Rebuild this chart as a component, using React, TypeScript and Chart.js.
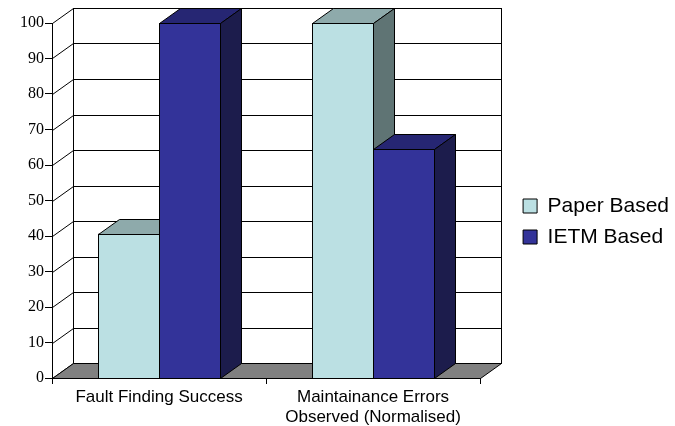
import React, { useEffect, useRef } from 'react';
import { Chart, registerables } from 'chart.js';

Chart.register(...registerables);

// ---- data ----
const categories: (string | string[])[] = [
  'Fault Finding Success',
  ['Maintainance Errors', 'Observed (Normalised)'],
];
const seriesNames = ['Paper Based', 'IETM Based'];
const paperBased = [40.7, 100];
const ietmBased = [100, 64.6];
const yMin = 0;
const yMax = 100;
const yStep = 10;

// ---- styles ----
const faces = [
  { front: '#BBE0E3', top: '#8EAAAB', side: '#5F7474' },
  { front: '#333399', top: '#262673', side: '#1C1C4C' },
];
const DX = 21;
const DY = -15.4;
const SANS = '"Liberation Sans", Arial, sans-serif';
const SERIF = '"Liberation Serif", "Times New Roman", serif';

const crisp = (v: number) => Math.round(v) + 0.5;

const box3d = {
  id: 'box3d',
  beforeDraw(chart: any) {
    const { ctx, chartArea } = chart;
    const L = crisp(chartArea.left);
    const R = crisp(chartArea.right);
    const T = crisp(chartArea.top);
    const B = crisp(chartArea.bottom);
    const ys = chart.scales.y;
    ctx.save();
    ctx.lineWidth = 1;
    ctx.strokeStyle = '#000';
    // back wall
    ctx.fillStyle = '#fff';
    ctx.fillRect(L + DX, T + DY, R - L, B - T);
    // grid lines on back wall and left wall
    ys.ticks.forEach((t: any) => {
      const py = crisp(ys.getPixelForValue(t.value));
      ctx.beginPath();
      ctx.moveTo(L + DX, crisp(py + DY));
      ctx.lineTo(R + DX, crisp(py + DY));
      ctx.stroke();
      ctx.beginPath();
      ctx.moveTo(L, py);
      ctx.lineTo(L + DX, crisp(py + DY));
      ctx.stroke();
    });
    ctx.strokeRect(L + DX, crisp(T + DY), R - L, B - T);
    // floor
    ctx.fillStyle = '#808080';
    ctx.beginPath();
    ctx.moveTo(L, B);
    ctx.lineTo(L + DX, crisp(B + DY));
    ctx.lineTo(R + DX, crisp(B + DY));
    ctx.lineTo(R, B);
    ctx.closePath();
    ctx.fill();
    ctx.stroke();
    ctx.restore();
  },
  afterDatasetsDraw(chart: any) {
    const { ctx } = chart;
    const n = chart.data.labels.length;
    ctx.save();
    ctx.lineWidth = 1;
    ctx.strokeStyle = '#000';
    ctx.lineJoin = 'miter';
    for (let i = 0; i < n; i++) {
      chart.data.datasets.forEach((ds: any, d: number) => {
        const bar = chart.getDatasetMeta(d).data[i];
        const f = faces[d];
        const l = crisp(bar.x - bar.width / 2);
        const r = crisp(bar.x + bar.width / 2);
        const t = crisp(bar.y);
        const b = crisp(bar.base);
        // front
        ctx.fillStyle = f.front;
        ctx.fillRect(l, t, r - l, b - t);
        ctx.strokeRect(l, t, r - l, b - t);
        // top
        ctx.fillStyle = f.top;
        ctx.beginPath();
        ctx.moveTo(l, t);
        ctx.lineTo(l + DX, crisp(t + DY));
        ctx.lineTo(r + DX, crisp(t + DY));
        ctx.lineTo(r, t);
        ctx.closePath();
        ctx.fill();
        ctx.stroke();
        // side
        ctx.fillStyle = f.side;
        ctx.beginPath();
        ctx.moveTo(r, t);
        ctx.lineTo(r + DX, crisp(t + DY));
        ctx.lineTo(r + DX, crisp(b + DY));
        ctx.lineTo(r, b);
        ctx.closePath();
        ctx.fill();
        ctx.stroke();
      });
    }
    ctx.restore();
  },
};

export default function App() {
  const ref = useRef<HTMLCanvasElement | null>(null);

  useEffect(() => {
    if (!ref.current) return;
    const chart = new Chart(ref.current, {
      type: 'bar',
      data: {
        labels: categories as any,
        datasets: [
          {
            label: seriesNames[0],
            data: paperBased,
            backgroundColor: faces[0].front,
            borderColor: '#000',
            borderWidth: 1,
            borderSkipped: false,
          },
          {
            label: seriesNames[1],
            data: ietmBased,
            backgroundColor: faces[1].front,
            borderColor: '#000',
            borderWidth: 1,
            borderSkipped: false,
          },
        ],
      },
      options: {
        responsive: false,
        animation: false,
        devicePixelRatio: 1,
        layout: { padding: { left: 0, top: 23, right: -4, bottom: 0 } },
        datasets: {
          bar: { categoryPercentage: 0.57, barPercentage: 1 },
        },
        plugins: {
          tooltip: { enabled: false },
          legend: {
            position: 'right',
            align: 'center',
            maxWidth: 240,
            title: {
              display: true,
              text: '',
              font: { size: 0 },
              padding: { top: -6, bottom: 0 },
            },
            labels: {
              boxWidth: 14,
              boxHeight: 14,
              padding: 10,
              color: '#000',
              font: { family: SANS, size: 21 },
            },
          },
        },
        scales: {
          x: {
            offset: true,
            grid: {
              display: true,
              drawOnChartArea: false,
              drawTicks: true,
              tickLength: 6,
              color: '#000',
              offset: true,
            },
            border: { display: true, color: '#000' },
            ticks: {
              color: '#000',
              padding: 4,
              maxRotation: 0,
              autoSkip: false,
              font: { family: SANS, size: 17, lineHeight: 1.15 },
            },
            afterFit: (s: any) => {
              s.height = 48;
            },
          },
          y: {
            min: yMin,
            max: yMax,
            grid: {
              drawOnChartArea: false,
              drawTicks: true,
              tickLength: 7,
              color: '#000',
            },
            border: { display: true, color: '#000' },
            ticks: {
              stepSize: yStep,
              padding: 1,
              color: '#000',
              font: { family: SERIF, size: 16 },
            },
            afterFit: (s: any) => {
              s.width = 52;
            },
          },
          depth: {
            type: 'linear',
            position: 'right',
            display: true,
            grid: { display: false },
            border: { display: false },
            ticks: { display: false },
            afterFit: (s: any) => {
              s.width = 33;
            },
          },
        },
      },
      plugins: [box3d],
    });
    return () => chart.destroy();
  }, []);

  return (
    <div style={{ position: 'fixed', left: 0, top: 0, width: 675, height: 426, background: '#fff' }}>
      <canvas ref={ref} width={675} height={426} />
    </div>
  );
}
